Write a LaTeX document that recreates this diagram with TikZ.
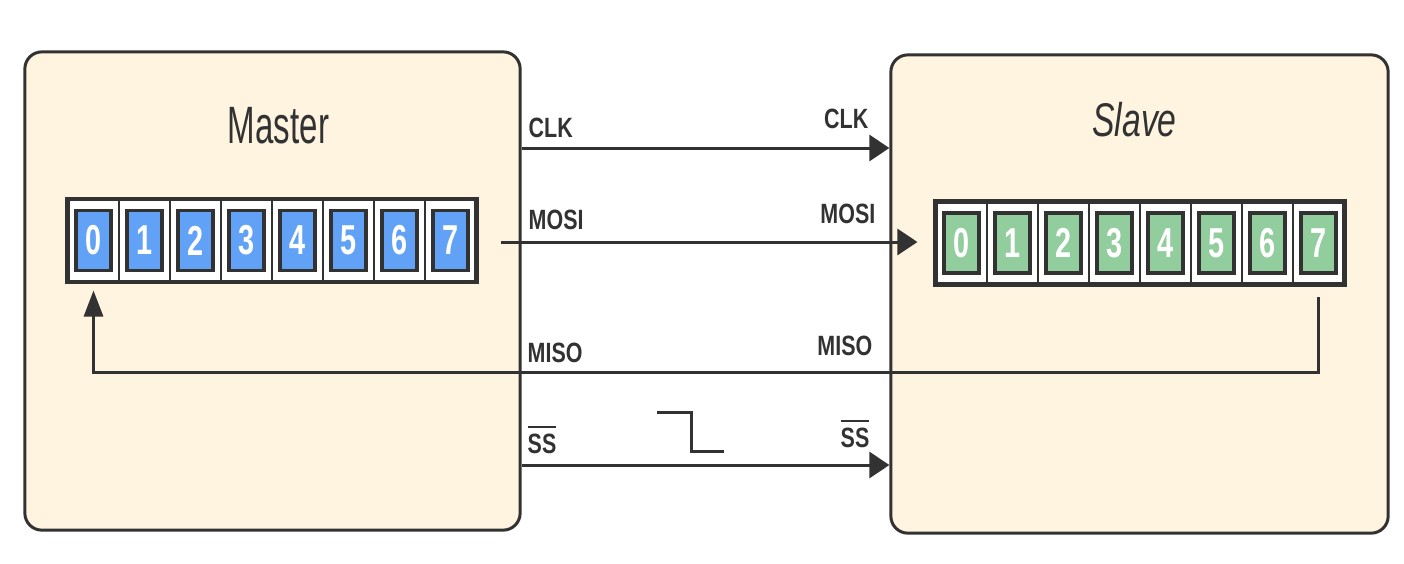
\documentclass[tikz,border=0pt]{standalone}
\usepackage{fontspec}
\setmainfont{Liberation Sans}
\usepackage{graphicx}
\usepackage{tikz}
\usetikzlibrary{arrows.meta, positioning}
\definecolor{boxcol}{RGB}{254,244,224}
\definecolor{mastercol}{RGB}{98,162,246}
\definecolor{slavecol}{RGB}{146,205,158}
\definecolor{linecol}{RGB}{50,50,50}
\newcommand{\vtext}[2]{\scalebox{1}[#1]{#2}}

\begin{document}
\begin{tikzpicture}[
  x=0.01cm, y=-0.01cm,
  chip/.style={draw=linecol, fill=boxcol, line width=0.85pt, rounded corners=0.17cm,
               minimum height=4.78cm},
  register/.style={draw=linecol, line width=1.4pt, minimum width=4.08cm,
                   minimum height=0.83cm, inner sep=0},
  cell/.style={draw=linecol, fill=white, line width=0.7pt, minimum width=0.51cm,
               minimum height=0.83cm, inner sep=0},
  bit/.style={draw=linecol, line width=1.1pt, minimum width=0.35cm, minimum height=0.6cm,
              inner sep=0, text=white, font=\fontsize{8.2}{9}\selectfont\bfseries},
  heading/.style={text=linecol, inner sep=0},
  sig/.style={draw=linecol, line width=0.85pt, -{Triangle[length=0.2cm, width=0.26cm]}},
  sigup/.style={draw=linecol, line width=0.85pt, -{Triangle[length=0.26cm, width=0.19cm]}},
  sigtext/.style={text=linecol, inner sep=0, font=\fontsize{6.1}{7}\selectfont\bfseries}
]
  \useasboundingbox (0,0) rectangle (1404,563);

  \node[chip, minimum width=4.95cm] (master) at (272.5,291) {};
  \node[chip, minimum width=4.97cm] (slave) at (1139.5,294) {};

  \node[heading, font=\fontsize{9.4}{11}\selectfont] (mtitle) at (278.5,125.5) {\vtext{1.59}{Master}};
  \node[heading, font=\fontsize{9.6}{11}\selectfont\itshape] (stitle) at (1134.5,120) {\vtext{1.4}{Slave}};

  \foreach \i in {0,...,7} {
    \node[cell] (mc\i) at (93.5+51*\i,240.5) {};
    \node[bit, fill=mastercol] (m\i) at (mc\i) {\vtext{1.45}{\i}};
    \node[cell] (sc\i) at (961.5+51*\i,243) {};
    \node[bit, fill=slavecol] (s\i) at (sc\i) {\vtext{1.45}{\i}};
  }
  \node[register] (mreg) at (272,240.5) {};
  \node[register] (sreg) at (1140,243) {};

  \draw[sig] (master.east |- 0,148) -- (slave.west |- 0,148);
  \draw[sig, shorten <=0.22cm, shorten >=0.16cm] (mreg.east |- 0,242) -- (sreg.west |- 0,242);
  \draw[sigup, shorten <=0.1cm, shorten >=0.06cm] (s7 |- sreg.south) -- (s7 |- 0,372)
    -- (m0 |- 0,372) -- (m0 |- mreg.south);
  \draw[sig] (master.east |- 0,465) -- (slave.west |- 0,465);

  \draw[linecol, line width=0.85pt] (657,412) -- (691,412) -- (691,451) -- (724,451);

  \node[sigtext, anchor=base west] (clkm) at (528,137) {\vtext{1.3}{CLK}};
  \node[sigtext, anchor=base east] (clks) at (869,128) {\vtext{1.3}{CLK}};
  \node[sigtext, anchor=base west] (mosim) at (528,229) {\vtext{1.3}{MOSI}};
  \node[sigtext, anchor=base east] (mosis) at (876,223) {\vtext{1.3}{MOSI}};
  \node[sigtext, anchor=base west] (misom) at (527,362) {\vtext{1.3}{MISO}};
  \node[sigtext, anchor=base east] (misos) at (873,355) {\vtext{1.3}{MISO}};
  \node[sigtext, anchor=base west] (ssm) at (527,453) {\vtext{1.3}{$\overline{\hbox{SS}}$}};
  \node[sigtext, anchor=base east] (sss) at (870,447) {\vtext{1.3}{$\overline{\hbox{SS}}$}};
\end{tikzpicture}
\end{document}
